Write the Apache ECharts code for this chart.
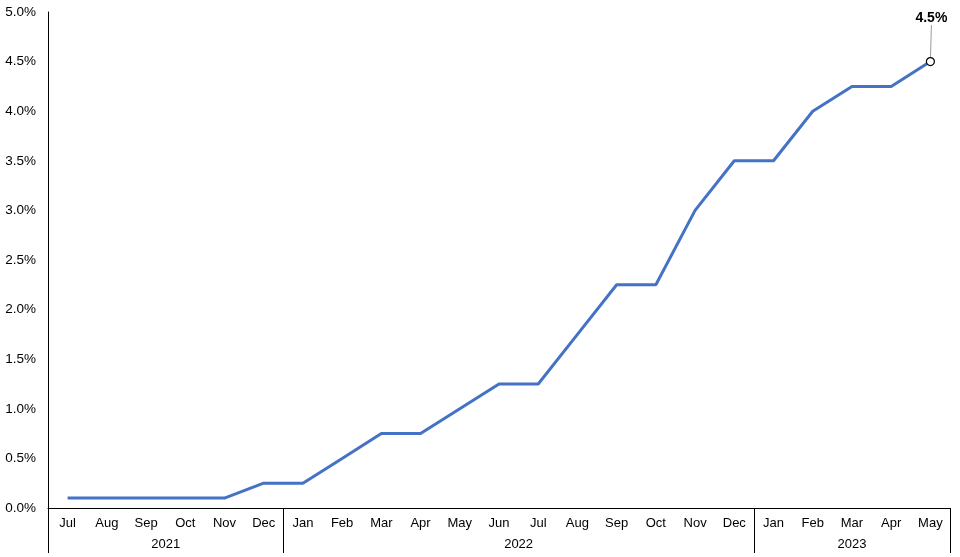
<!DOCTYPE html>
<html>
<head>
<meta charset="utf-8">
<script src="https://cdn.jsdelivr.net/npm/echarts@6/dist/echarts.min.js"></script>
<style>
html, body { margin: 0; padding: 0; background: #fff; }
#chart { width: 960px; height: 557px; }
</style>
</head>
<body>
<div id="chart"></div>
<script>
// 数据
const months = ['Jul', 'Aug', 'Sep', 'Oct', 'Nov', 'Dec',
    'Jan', 'Feb', 'Mar', 'Apr', 'May', 'Jun', 'Jul', 'Aug', 'Sep', 'Oct', 'Nov', 'Dec',
    'Jan', 'Feb', 'Mar', 'Apr', 'May'];
const rates = [0.1, 0.1, 0.1, 0.1, 0.1, 0.25,
    0.25, 0.5, 0.75, 0.75, 1.0, 1.25, 1.25, 1.75, 2.25, 2.25, 3.0, 3.5,
    3.5, 4.0, 4.25, 4.25, 4.5];
const years = ['2021', '2022', '2023'];
const yearBounds = [0, 6, 18, 23];

const font = 'Liberation Sans';

document.addEventListener('DOMContentLoaded', function() {
    const chartDom = document.getElementById('chart');
    const myChart = echarts.init(chartDom);

    const lastIdx = rates.length - 1;
    const seriesData = rates.map(function(v, i) {
        if (i !== lastIdx) return v;
        return {
            value: v,
            symbol: 'circle',
            symbolSize: 8,
            itemStyle: { color: '#fff', borderColor: '#000', borderWidth: 1.2 },
            label: {
                show: true,
                position: 'top',
                formatter: v.toFixed(1) + '%',
                fontFamily: font,
                fontWeight: 'bold',
                fontSize: 14,
                color: '#000'
            },
            labelLine: { show: true, lineStyle: { color: '#999', width: 1 } }
        };
    });

    // 年份标签位置（各段中点）
    const yearCenters = years.map(function(y, i) {
        return (yearBounds[i] + yearBounds[i + 1]) / 2;
    });

    const option = {
        animation: false,
        grid: { left: 48, right: 10, top: 12, bottom: 49 },
        xAxis: [
            {
                type: 'category',
                data: months,
                axisLine: { lineStyle: { color: '#000', width: 1 } },
                axisTick: { show: false },
                axisLabel: {
                    interval: 0,
                    color: '#000',
                    fontFamily: font,
                    fontSize: 13,
                    margin: 9
                }
            },
            {
                type: 'value',
                min: 0,
                max: months.length,
                position: 'bottom',
                axisLine: { show: false },
                splitLine: { show: false },
                axisTick: {
                    show: true,
                    customValues: yearBounds,
                    length: 45,
                    lineStyle: { color: '#000', width: 1 }
                },
                axisLabel: {
                    customValues: yearCenters,
                    margin: 30,
                    color: '#000',
                    fontFamily: font,
                    fontSize: 13,
                    formatter: function(val) {
                        const i = yearCenters.indexOf(val);
                        return i >= 0 ? years[i] : '';
                    }
                }
            }
        ],
        yAxis: {
            type: 'value',
            min: 0,
            max: 5,
            interval: 0.5,
            axisLine: { show: true, lineStyle: { color: '#000', width: 1 } },
            axisTick: { show: false },
            splitLine: { show: false },
            axisLabel: {
                color: '#000',
                fontFamily: font,
                fontSize: 13.5,
                margin: 12,
                formatter: function(v) { return v.toFixed(1) + '%'; }
            }
        },
        series: [
            {
                type: 'line',
                data: seriesData,
                symbol: 'none',
                showSymbol: true,
                lineStyle: { color: '#4472C4', width: 3 },
                itemStyle: { color: '#4472C4' },
                labelLayout: function(params) {
                    if (params.dataIndex === lastIdx) {
                        return { dx: 1, dy: -27 };
                    }
                }
            }
        ]
    };

    myChart.setOption(option);

    window.addEventListener('resize', function() {
        myChart.resize();
    });
});
</script>
</body>
</html>
